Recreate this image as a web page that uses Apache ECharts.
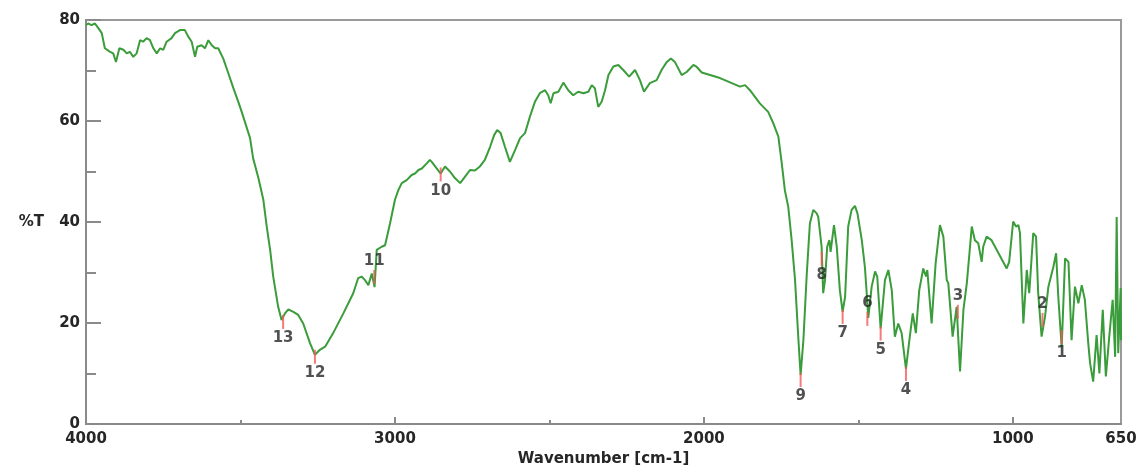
<!DOCTYPE html>
<html>
<head>
<meta charset="utf-8">
<title>IR spectrum</title>
<script src="https://cdn.jsdelivr.net/npm/echarts@6/dist/echarts.min.js"></script>
<style>
  html, body { margin: 0; padding: 0; background: #ffffff; }
  #chart { width: 1147px; height: 472px; }
</style>
</head>
<body>
<div id="chart"></div>
<script>
// Wavenumber (cm-1) of each sampled point of the transmittance trace
const spectrumWn = [
  4000, 3993, 3982, 3971, 3960, 3949, 3939, 3922, 3912, 3903, 3892, 3879, 3868, 3858, 3847, 3836,
  3825, 3815, 3804, 3793, 3782, 3771, 3760, 3750, 3739, 3723, 3712, 3696, 3680, 3669, 3658, 3647,
  3640, 3626, 3615, 3604, 3593, 3582, 3572, 3556, 3539, 3523, 3507, 3496, 3469, 3459, 3442, 3426,
  3415, 3404, 3394, 3378, 3367, 3356, 3345, 3329, 3313, 3297, 3275, 3259, 3243, 3226, 3200, 3167,
  3135, 3119, 3108, 3097, 3086, 3075, 3071, 3066, 3059, 3043, 3032, 3016, 3000, 2989, 2978, 2962,
  2946, 2935, 2924, 2913, 2897, 2887, 2881, 2865, 2852, 2838, 2822, 2806, 2789, 2773, 2757, 2741,
  2725, 2709, 2692, 2679, 2669, 2658, 2644, 2628, 2611, 2595, 2579, 2563, 2547, 2531, 2514, 2504,
  2496, 2487, 2471, 2455, 2439, 2423, 2407, 2390, 2374, 2363, 2353, 2342, 2331, 2320, 2309, 2293,
  2277, 2261, 2242, 2223, 2207, 2194, 2175, 2153, 2137, 2120, 2107, 2094, 2072, 2056, 2034, 2023,
  2007, 1948, 1883, 1867, 1851, 1819, 1792, 1775, 1759, 1748, 1738, 1727, 1716, 1705, 1694, 1687,
  1678, 1667, 1657, 1646, 1635, 1630, 1619, 1614, 1608, 1601, 1594, 1590, 1579, 1570, 1560, 1551,
  1543, 1533, 1522, 1511, 1503, 1489, 1479, 1473, 1468, 1457, 1446, 1439, 1428, 1414, 1403, 1392,
  1382, 1371, 1360, 1346, 1335, 1324, 1314, 1303, 1290, 1281, 1277, 1263, 1250, 1236, 1225, 1214,
  1209, 1195, 1182, 1171, 1160, 1149, 1133, 1123, 1112, 1101, 1096, 1085, 1069, 1020, 1012, 999,
  990, 982, 977, 966, 955, 947, 934, 925, 918, 907, 896, 885, 869, 860, 853, 842,
  831, 820, 810, 799, 788, 777, 767, 756, 750, 740, 729, 720, 709, 699, 688, 677,
  669, 664, 659, 651, 650
];

// Transmittance (%T) at each wavenumber above
const spectrumT = [
  79.0, 79.3, 79.0, 79.3, 78.4, 77.4, 74.4, 73.7, 73.4, 71.7, 74.4, 74.1, 73.4, 73.7, 72.7, 73.4,
  76.0, 75.7, 76.4, 76.0, 74.4, 73.4, 74.4, 74.1, 75.7, 76.4, 77.4, 78.0, 78.0, 76.7, 75.7, 72.7,
  74.7, 75.0, 74.4, 76.0, 75.0, 74.4, 74.4, 72.4, 69.4, 66.5, 63.8, 61.8, 56.6, 52.6, 48.7, 44.4,
  39.1, 34.5, 29.2, 23.2, 20.6, 21.9, 22.7, 22.2, 21.6, 19.9, 16.0, 13.7, 14.7, 15.3, 18.0, 21.9,
  25.9, 28.9, 29.2, 28.5, 27.5, 29.8, 30.1, 27.1, 34.5, 35.1, 35.4, 39.7, 44.4, 46.3, 47.7, 48.3,
  49.3, 49.6, 50.3, 50.6, 51.6, 52.3, 51.9, 50.6, 49.6, 51.0, 50.0, 48.7, 47.7, 49.0, 50.3, 50.2,
  51.0, 52.3, 54.9, 57.2, 58.2, 57.6, 54.9, 51.9, 54.3, 56.6, 57.6, 60.9, 63.8, 65.5, 66.1, 65.1,
  63.5, 65.5, 65.8, 67.6, 66.1, 65.1, 65.8, 65.5, 65.8, 67.1, 66.5, 62.8, 63.8, 66.1, 69.1, 70.8,
  71.1, 70.1, 68.8, 70.1, 68.1, 65.8, 67.5, 68.1, 70.1, 71.7, 72.4, 71.7, 69.1, 69.7, 71.1, 70.7,
  69.6, 68.5, 66.8, 67.1, 66.1, 63.5, 61.8, 59.5, 56.9, 51.6, 46.3, 43.0, 36.4, 28.5, 16.6, 9.7,
  16.6, 29.8, 39.7, 42.4, 41.7, 41.0, 35.1, 25.9, 28.5, 35.1, 36.4, 34.1, 39.4, 35.1, 26.5, 22.2,
  25.2, 39.1, 42.4, 43.2, 41.7, 36.4, 31.1, 25.9, 21.0, 27.2, 30.2, 29.2, 18.9, 28.5, 30.5, 26.5,
  17.3, 19.9, 18.0, 10.9, 16.6, 21.9, 18.0, 26.5, 30.8, 29.2, 30.5, 19.9, 31.8, 39.4, 37.1, 28.5,
  27.9, 17.3, 23.2, 10.4, 22.6, 27.9, 39.1, 36.4, 35.8, 32.1, 35.1, 37.1, 36.4, 30.8, 32.1, 40.1,
  39.1, 39.4, 37.8, 19.9, 30.5, 25.9, 37.8, 37.1, 25.9, 17.3, 21.2, 27.2, 31.1, 33.8, 25.2, 15.2,
  32.8, 32.1, 16.6, 27.2, 23.9, 27.5, 24.6, 16.0, 12.0, 8.4, 17.6, 10.0, 22.6, 9.4, 17.3, 24.6,
  13.3, 41.0, 14.0, 26.9, 16.6
];

// Picked peaks: number, wavenumber, %T where the marker starts, label side
const peakNo   = ['1', '2', '3', '4', '5', '6', '7', '8', '9', '10', '11', '12', '13'];
const peakWn   = [842, 904, 1178, 1346, 1428, 1471, 1551, 1619, 1687, 2852, 3067, 3259, 3362];
const peakT    = [18.6, 22.0, 23.6, 11.3, 19.3, 22.2, 22.6, 34.1, 10.1, 50.8, 30.5, 14.7, 21.6];
const peakSide = ['below', 'above', 'above', 'below', 'below', 'above', 'below', 'below', 'below',
                  'below', 'above', 'below', 'below'];

// Axis ticks and labels
const xLabelValues = [4000, 3000, 2000, 1000, 650];
const xMajorTicks  = [3000, 2000, 1000];
const xMinorTicks  = [3500, 2500, 1500];

const textFont = '"DejaVu Sans", "Liberation Sans", sans-serif';
const textColor = '#262626';
const axisGray = '#8a8a8a';

const chart = echarts.init(document.getElementById('chart'), null, { renderer: 'canvas' });

const lineData = spectrumWn.map((w, i) => [w, spectrumT[i]]);
const peakData = peakWn.map((w, i) => ({
  value: [w, peakT[i]],
  name: peakNo[i],
  label: peakSide[i] === 'above'
    ? { position: 'top', distance: 1 }
    : { position: 'bottom', distance: 2 }
}));

const xBase = {
  type: 'value',
  min: 650,
  max: 4000,
  inverse: true,
  position: 'bottom',
  splitLine: { show: false }
};

chart.setOption({
  animation: false,
  backgroundColor: '#ffffff',
  grid: {
    left: 86,
    right: 26,
    top: 20,
    bottom: 48,
    show: true,
    borderColor: '#9a9a9a',
    borderWidth: 2,
    backgroundColor: 'transparent'
  },
  xAxis: [
    Object.assign({}, xBase, {
      name: 'Wavenumber [cm-1]',
      nameLocation: 'middle',
      nameGap: 27,
      nameTextStyle: { fontFamily: textFont, fontSize: 15, fontWeight: 'bold', color: textColor },
      axisLine: { show: true, lineStyle: { color: axisGray, width: 2 } },
      axisTick: {
        show: true, inside: true, length: 7, customValues: xMajorTicks,
        lineStyle: { color: axisGray, width: 2 }
      },
      axisLabel: {
        show: true, customValues: xLabelValues, margin: 8,
        formatter: v => String(v),
        fontFamily: textFont, fontSize: 15, fontWeight: 'bold', color: textColor
      }
    }),
    Object.assign({}, xBase, {
      axisLine: { show: false },
      axisTick: {
        show: true, inside: true, length: 4, customValues: xMinorTicks,
        lineStyle: { color: axisGray, width: 2 }
      },
      axisLabel: { show: false }
    })
  ],
  yAxis: {
    type: 'value',
    min: 0,
    max: 80,
    interval: 20,
    name: '%T',
    nameLocation: 'middle',
    nameRotate: 0,
    nameGap: 42,
    nameTextStyle: {
      fontFamily: textFont, fontSize: 15, fontWeight: 'bold', color: textColor,
      padding: [16, 0, 0, 0]
    },
    splitLine: { show: false },
    axisLine: { show: true, lineStyle: { color: axisGray, width: 2 } },
    axisTick: { show: true, inside: true, length: 15, lineStyle: { color: axisGray, width: 2 } },
    minorTick: { show: true, splitNumber: 2, length: 10, lineStyle: { color: axisGray, width: 2 } },
    axisLabel: {
      margin: 6,
      fontFamily: textFont, fontSize: 15, fontWeight: 'bold', color: textColor
    }
  },
  series: [
    {
      name: 'Spectrum',
      type: 'line',
      xAxisIndex: 0,
      data: lineData,
      showSymbol: false,
      silent: true,
      lineStyle: { color: '#3a9c3a', width: 2 },
      z: 2
    },
    {
      name: 'Peaks',
      type: 'scatter',
      xAxisIndex: 0,
      data: peakData,
      symbol: 'rect',
      symbolSize: [2, 14],
      symbolOffset: [0, 7],
      silent: true,
      itemStyle: { color: '#f25a5a' },
      label: {
        show: true,
        formatter: p => p.name,
        fontFamily: textFont,
        fontSize: 15,
        fontWeight: 'bold',
        color: textColor
      },
      z: 3
    }
  ]
});
</script>
</body>
</html>
